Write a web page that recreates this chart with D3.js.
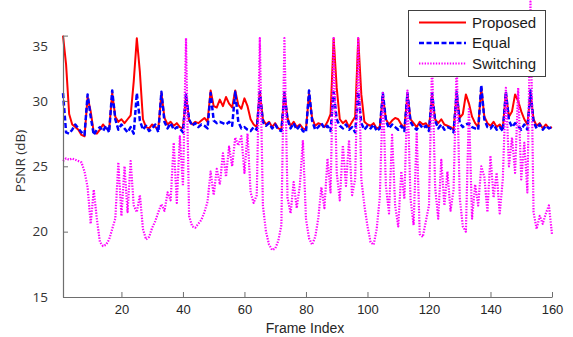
<!DOCTYPE html>
<html>
<head>
<meta charset="utf-8">
<script src="https://cdn.jsdelivr.net/npm/d3@7"></script>
<style>
    body { margin: 0; background: #fff; }
    svg { display: block; }
</style>
</head>
<body>
<div id="plot"></div>
<script>
// frame index 1..160
const frames = d3.range(1, 161);

const proposed = [
    35.0, 32.8, 29.0, 28.2, 28.0, 27.8, 27.4, 27.3, 30.3, 29.2,
    27.6, 27.5, 27.8, 28.2, 27.9, 27.8, 30.6, 28.8, 28.4, 28.6,
    28.3, 28.6, 28.9, 31.5, 34.8, 32.2, 28.6, 28.0, 27.9, 28.2,
    28.0, 27.9, 30.6, 28.7, 28.2, 28.4, 28.1, 28.3, 28.0, 27.9,
    30.4, 28.5, 28.2, 28.4, 28.3, 28.5, 28.7, 28.4, 30.8, 29.6,
    29.5, 30.1, 29.6, 30.3, 29.8, 29.5, 30.8, 29.7, 29.4, 30.2,
    29.6, 28.6, 28.2, 28.0, 30.7, 28.6, 28.2, 28.4, 28.0, 28.3,
    27.9, 27.8, 30.6, 28.7, 28.1, 28.4, 28.0, 28.2, 27.9, 27.8,
    30.6, 28.7, 28.1, 28.3, 28.2, 28.0, 28.4, 29.0, 34.8, 31.0,
    28.6, 28.3, 28.5, 28.0, 28.4, 28.8, 34.8, 30.5, 28.4, 28.2,
    28.1, 28.3, 27.9, 28.0, 30.4, 28.6, 28.2, 28.5, 28.7, 28.6,
    28.2, 27.9, 30.5, 28.6, 28.3, 28.0, 28.4, 28.2, 28.3, 27.9,
    30.4, 28.6, 28.3, 28.6, 28.2, 28.1, 28.0, 27.8, 30.5, 28.7,
    29.0, 30.5, 29.8, 28.8, 28.3, 28.0, 31.0, 28.8, 28.3, 28.1,
    28.4, 28.0, 28.2, 27.9, 30.6, 28.8, 29.2, 30.5, 30.0, 29.2,
    28.6, 28.2, 30.6, 28.6, 28.1, 28.3, 27.9, 28.2, 27.9, 28.0
];

const equal = [
    30.6, 27.6, 27.5, 27.8, 28.2, 27.9, 27.6, 27.4, 30.5, 28.8,
    27.4, 27.8, 28.0, 27.7, 28.1, 27.6, 30.8, 28.6, 27.8, 28.2,
    27.9, 27.6, 28.0, 27.5, 30.6, 28.5, 27.8, 28.1, 27.7, 27.9,
    28.2, 27.6, 30.7, 28.4, 27.9, 28.3, 27.8, 28.0, 27.9, 27.6,
    30.5, 28.6, 28.1, 28.3, 28.0, 28.2, 28.1, 27.9, 30.6, 28.5,
    28.3, 28.4, 28.3, 28.2, 28.4, 28.1, 30.7, 28.4, 27.9, 28.0,
    27.8, 27.7, 28.0, 27.8, 30.7, 28.4, 28.1, 28.3, 27.9, 28.2,
    27.8, 27.7, 30.6, 28.6, 27.9, 28.3, 27.8, 28.1, 27.7, 27.6,
    30.8, 28.5, 27.8, 28.0, 28.3, 27.9, 28.1, 27.7, 30.7, 28.6,
    28.1, 27.9, 28.2, 27.8, 28.0, 27.6, 30.7, 28.3, 27.8, 28.1,
    27.9, 28.2, 27.7, 27.9, 30.6, 28.5, 27.9, 28.2, 28.0, 27.8,
    28.1, 27.7, 30.6, 28.4, 28.0, 27.8, 28.2, 27.9, 28.1, 27.7,
    30.6, 28.5, 27.9, 28.2, 27.8, 28.0, 27.9, 27.6, 30.7, 28.3,
    28.0, 28.2, 28.3, 28.0, 27.9, 27.8, 31.2, 28.6, 28.0, 27.9,
    28.2, 27.8, 28.0, 27.7, 30.7, 28.5, 28.0, 28.3, 28.1, 27.8,
    28.2, 27.8, 30.8, 28.4, 27.9, 28.2, 27.8, 28.1, 27.9, 28.0
];

const switching = [
    25.4, 25.6, 25.5, 25.6, 25.5, 25.4, 25.3, 24.6, 23.4, 20.6,
    23.2, 21.0, 19.2, 18.9, 19.0, 19.4, 20.2, 21.0, 25.3, 21.2,
    25.0, 21.5, 25.4, 22.0, 21.5, 22.8, 20.2, 19.4, 19.6, 20.3,
    20.8, 21.5, 22.1, 21.6, 23.0, 22.4, 26.8, 22.2, 27.3, 23.5,
    34.8, 21.2, 20.4, 20.3, 20.6, 20.9, 21.5, 22.3, 24.6, 22.8,
    24.8, 23.6, 26.0, 24.2, 26.5, 25.0, 27.2, 26.6, 27.3, 24.5,
    27.5, 23.0, 22.2, 22.8, 34.8, 22.0, 20.0, 19.0, 18.6, 18.7,
    19.3, 20.5, 34.8, 22.6, 21.4, 23.8, 21.8, 23.5, 27.0, 21.0,
    19.5, 19.0, 19.6, 21.0, 23.4, 21.8, 25.6, 23.0, 34.8, 24.5,
    22.4, 26.6, 23.5, 27.0, 22.8, 24.0, 34.8, 24.0, 22.0, 20.4,
    19.2, 19.0, 20.2, 22.6, 30.6, 23.5, 21.4, 27.4, 22.0, 20.4,
    24.6, 22.5, 30.8, 22.5, 20.5, 27.6, 19.8, 19.6, 20.8, 22.0,
    33.0, 23.4, 21.0, 25.5, 22.0, 24.6, 21.6, 23.2, 33.0, 22.6,
    20.4, 20.0, 29.5, 21.0, 23.6, 22.0, 25.0, 24.2, 21.5, 25.8,
    22.6, 24.5, 21.4, 24.0, 31.0, 25.0, 27.2, 24.5, 31.0, 24.0,
    26.8, 23.0, 37.6, 21.5, 20.2, 21.2, 20.6, 21.4, 22.0, 19.8
];

const xTicks = [20, 40, 60, 80, 100, 120, 140, 160];
const yTicks = [15, 20, 25, 30, 35];
const seriesNames = ['Proposed', 'Equal', 'Switching'];

const width = 573, height = 337;
const plot = {left: 63, right: 552, top: 35.6, bottom: 297};

const svg = d3.select('#plot')
    .append('svg')
    .attr('width', width)
    .attr('height', height);

const x = d3.scaleLinear()
    .domain([1, 160])
    .range([plot.left, plot.right]);

const y = d3.scaleLinear()
    .domain([15, 35])
    .range([plot.bottom, plot.top]);

const styles = [
    {color: '#ff0000', width: 2, dash: null},
    {color: '#0000ff', width: 2.5, dash: '5,2.5'},
    {color: '#ff00ff', width: 2.2, dash: '1.4,1.4'}
];

// lines, drawn in plot order so the last one sits on top
[proposed, equal, switching].forEach((values, i) => {
    svg.append('path')
        .datum(values)
        .attr('fill', 'none')
        .attr('stroke', styles[i].color)
        .attr('stroke-width', styles[i].width)
        .attr('stroke-dasharray', styles[i].dash)
        .attr('stroke-linejoin', 'round')
        .attr('d', d3.line()
            .x((d, j) => x(frames[j]))
            .y(d => y(d))
        );
});

// x axis, ticks pointing inward
svg.append('g')
    .attr('transform', `translate(0,${plot.bottom})`)
    .call(d3.axisBottom(x).tickValues(xTicks).tickSizeInner(-5).tickSizeOuter(0).tickPadding(8))
    .call(g => g.select('.domain').attr('stroke', '#6e6e6e').attr('stroke-width', 1.2))
    .call(g => g.selectAll('.tick line').attr('stroke', '#6e6e6e'))
    .call(g => g.selectAll('.tick text')
        .attr('fill', '#262626')
        .style('font-family', '"Liberation Sans", Arial, sans-serif')
        .style('font-size', '13px'));

// y axis
svg.append('g')
    .attr('transform', `translate(${plot.left},0)`)
    .call(d3.axisLeft(y).tickValues(yTicks).tickSizeInner(-5).tickSizeOuter(0).tickPadding(15))
    .call(g => g.select('.domain').attr('stroke', '#6e6e6e').attr('stroke-width', 1.2))
    .call(g => g.selectAll('.tick line').attr('stroke', '#6e6e6e'))
    .call(g => g.selectAll('.tick text')
        .attr('fill', '#333')
        .style('font-family', '"Open Sans", sans-serif')
        .style('font-size', '13.5px'))
    .call(g => g.selectAll('.tick').filter(d => d === 35).select('text').attr('dy', '1.1em'));

svg.append('text')
    .attr('x', 305)
    .attr('y', 333)
    .attr('text-anchor', 'middle')
    .attr('fill', '#262626')
    .style('font-family', '"Liberation Sans", Arial, sans-serif')
    .style('font-size', '14px')
    .text('Frame Index');

svg.append('text')
    .attr('transform', 'translate(25,161) rotate(-90)')
    .attr('text-anchor', 'middle')
    .attr('fill', '#333')
    .style('font-family', '"Open Sans", sans-serif')
    .style('font-size', '13.5px')
    .text('PSNR (dB)');

// legend
const legend = svg.append('g');
legend.append('rect')
    .attr('x', 408.5)
    .attr('y', 10.5)
    .attr('width', 137)
    .attr('height', 66)
    .attr('fill', '#fff')
    .attr('stroke', '#404040')
    .attr('stroke-width', 1);

seriesNames.forEach((name, i) => {
    const rowY = 22.5 + i * 20.5;
    legend.append('line')
        .attr('x1', 419)
        .attr('x2', 466)
        .attr('y1', rowY)
        .attr('y2', rowY)
        .attr('stroke', styles[i].color)
        .attr('stroke-width', styles[i].width)
        .attr('stroke-dasharray', styles[i].dash);
    legend.append('text')
        .attr('x', 472)
        .attr('y', rowY + 5)
        .attr('fill', '#1a1a1a')
        .style('font-family', '"Liberation Sans", Arial, sans-serif')
        .style('font-size', '15px')
        .text(name);
});
</script>
</body>
</html>
